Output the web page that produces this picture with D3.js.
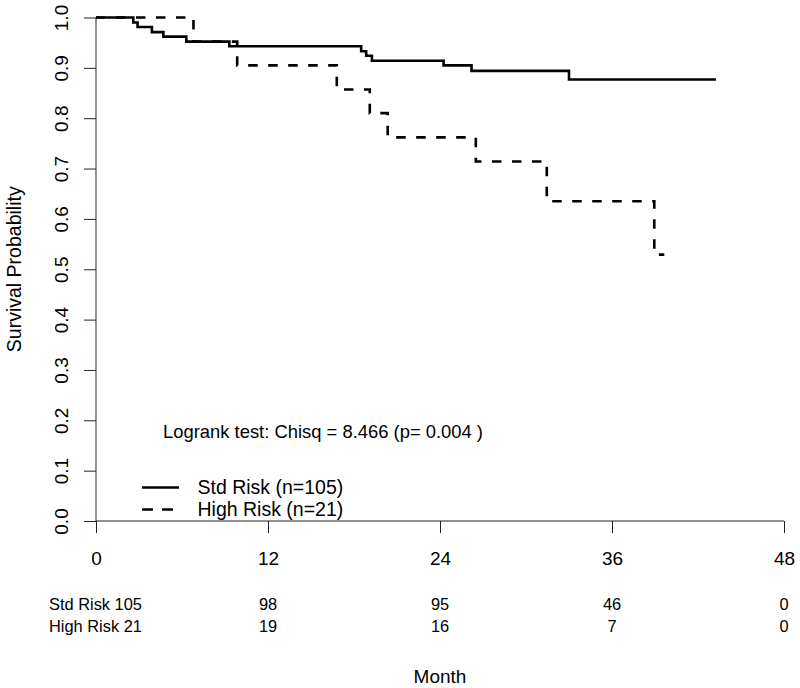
<!DOCTYPE html>
<html>
<head>
<meta charset="utf-8">
<script src="https://cdn.jsdelivr.net/npm/d3@7"></script>
<style>
html, body { margin: 0; padding: 0; background: #fff; }
svg { display: block; }
text { font-family: "Liberation Sans", Arial, Helvetica, sans-serif; fill: #000; }
</style>
</head>
<body>
<svg id="chart" width="800" height="688"></svg>
<script>
// ---- data ----
const stdTimes = [0, 2.6, 2.9, 3.9, 4.7, 6.3, 9.3, 18.5, 18.85, 19.25, 24.25, 26.2, 33.0];
const stdSurv  = [1, 0.990, 0.981, 0.971, 0.962, 0.952, 0.943, 0.933, 0.924, 0.914, 0.905, 0.894, 0.877];
const stdEnd = 43.25;
const highTimes = [0, 6.8, 9.85, 16.8, 19.1, 20.35, 26.5, 31.45, 38.95];
const highSurv  = [1, 0.952, 0.905, 0.857, 0.810, 0.762, 0.714, 0.635, 0.529];
const highEnd = 39.65;
const xTicks = [0, 12, 24, 36, 48];
const yTicks = [0, 0.1, 0.2, 0.3, 0.4, 0.5, 0.6, 0.7, 0.8, 0.9, 1.0];
const riskStd = [105, 98, 95, 46, 0];
const riskHigh = [21, 19, 16, 7, 0];
const groupNames = ["Std Risk", "High Risk"];
const legendLabels = ["Std Risk (n=105)", "High Risk (n=21)"];
const logrankText = "Logrank test: Chisq = 8.466 (p= 0.004 )";
const xLabel = "Month";
const yLabel = "Survival Probability";

// ---- layout ----
const svg = d3.select("#chart");
const x = d3.scaleLinear().domain([0, 48]).range([96, 784]);
const y = d3.scaleLinear().domain([0, 1]).range([521, 17.5]);

// axes
const yAxis = svg.append("g").attr("transform", "translate(96,0)")
  .call(d3.axisLeft(y).tickValues(yTicks).tickSize(12).tickFormat(d3.format(".1f")));
yAxis.select(".domain").attr("d", `M0,${y(0)}V${y(1)}`).attr("stroke", "#222").attr("stroke-width", 1);
yAxis.selectAll(".tick line").attr("stroke", "#222").attr("stroke-width", 1);
yAxis.selectAll(".tick text")
  .attr("x", null).attr("dy", null)
  .attr("transform", "translate(-28,0) rotate(-90)")
  .attr("text-anchor", "middle")
  .attr("font-size", 19)
  .attr("font-family", null)
  .attr("fill", "#000");

const xAxis = svg.append("g").attr("transform", `translate(0,${y(0)})`)
  .call(d3.axisBottom(x).tickValues(xTicks).tickSize(12).tickFormat(d3.format("d")));
xAxis.select(".domain").attr("d", `M${x(0)},0H${x(48)}`).attr("stroke", "#222").attr("stroke-width", 1);
xAxis.selectAll(".tick line").attr("stroke", "#222").attr("stroke-width", 1);
xAxis.selectAll(".tick text")
  .attr("y", 44).attr("dy", null)
  .attr("font-size", 19)
  .attr("font-family", null)
  .attr("fill", "#000");

// curves
function stepData(times, surv, end) {
  const pts = times.map((t, i) => [t, surv[i]]);
  pts.push([end, surv[surv.length - 1]]);
  return pts;
}
const line = d3.line().x(d => x(d[0])).y(d => y(d[1])).curve(d3.curveStepAfter);

svg.append("path")
  .datum(stepData(stdTimes, stdSurv, stdEnd))
  .attr("d", line)
  .attr("fill", "none").attr("stroke", "#000").attr("stroke-width", 2.6);

svg.append("path")
  .datum(stepData(highTimes, highSurv, highEnd))
  .attr("d", line)
  .attr("fill", "none").attr("stroke", "#000").attr("stroke-width", 2.6)
  .attr("stroke-dasharray", "9.5,10.5");

// logrank text
svg.append("text").attr("x", 163).attr("y", 438).attr("font-size", 18.4).text(logrankText);

// legend
const leg = svg.append("g");
const legRows = [487.5, 509.5];
legendLabels.forEach((lab, i) => {
  leg.append("line")
    .attr("x1", 142).attr("x2", 179).attr("y1", legRows[i]).attr("y2", legRows[i])
    .attr("stroke", "#000").attr("stroke-width", 2.6)
    .attr("stroke-dasharray", i === 1 ? "11,9" : null);
  leg.append("text").attr("x", 197.5).attr("y", legRows[i] + 6.5)
    .attr("font-size", 19.5).text(lab);
});

// risk table
const riskRows = [609.5, 632];
[riskStd, riskHigh].forEach((vals, r) => {
  svg.append("text").attr("x", 49).attr("y", riskRows[r]).attr("font-size", 16.4)
    .text(groupNames[r] + " " + vals[0]);
  xTicks.slice(1).forEach((t, i) => {
    svg.append("text").attr("x", x(t)).attr("y", riskRows[r]).attr("font-size", 16.4)
      .attr("text-anchor", "middle").text(vals[i + 1]);
  });
});

// axis titles
svg.append("text").attr("x", (x(0) + x(48)) / 2).attr("y", 683).attr("font-size", 19)
  .attr("text-anchor", "middle").text(xLabel);
svg.append("text").attr("transform", `translate(20.5,${(y(0) + y(1)) / 2}) rotate(-90)`)
  .attr("font-size", 19.5).attr("text-anchor", "middle").text(yLabel);
</script>
</body>
</html>
